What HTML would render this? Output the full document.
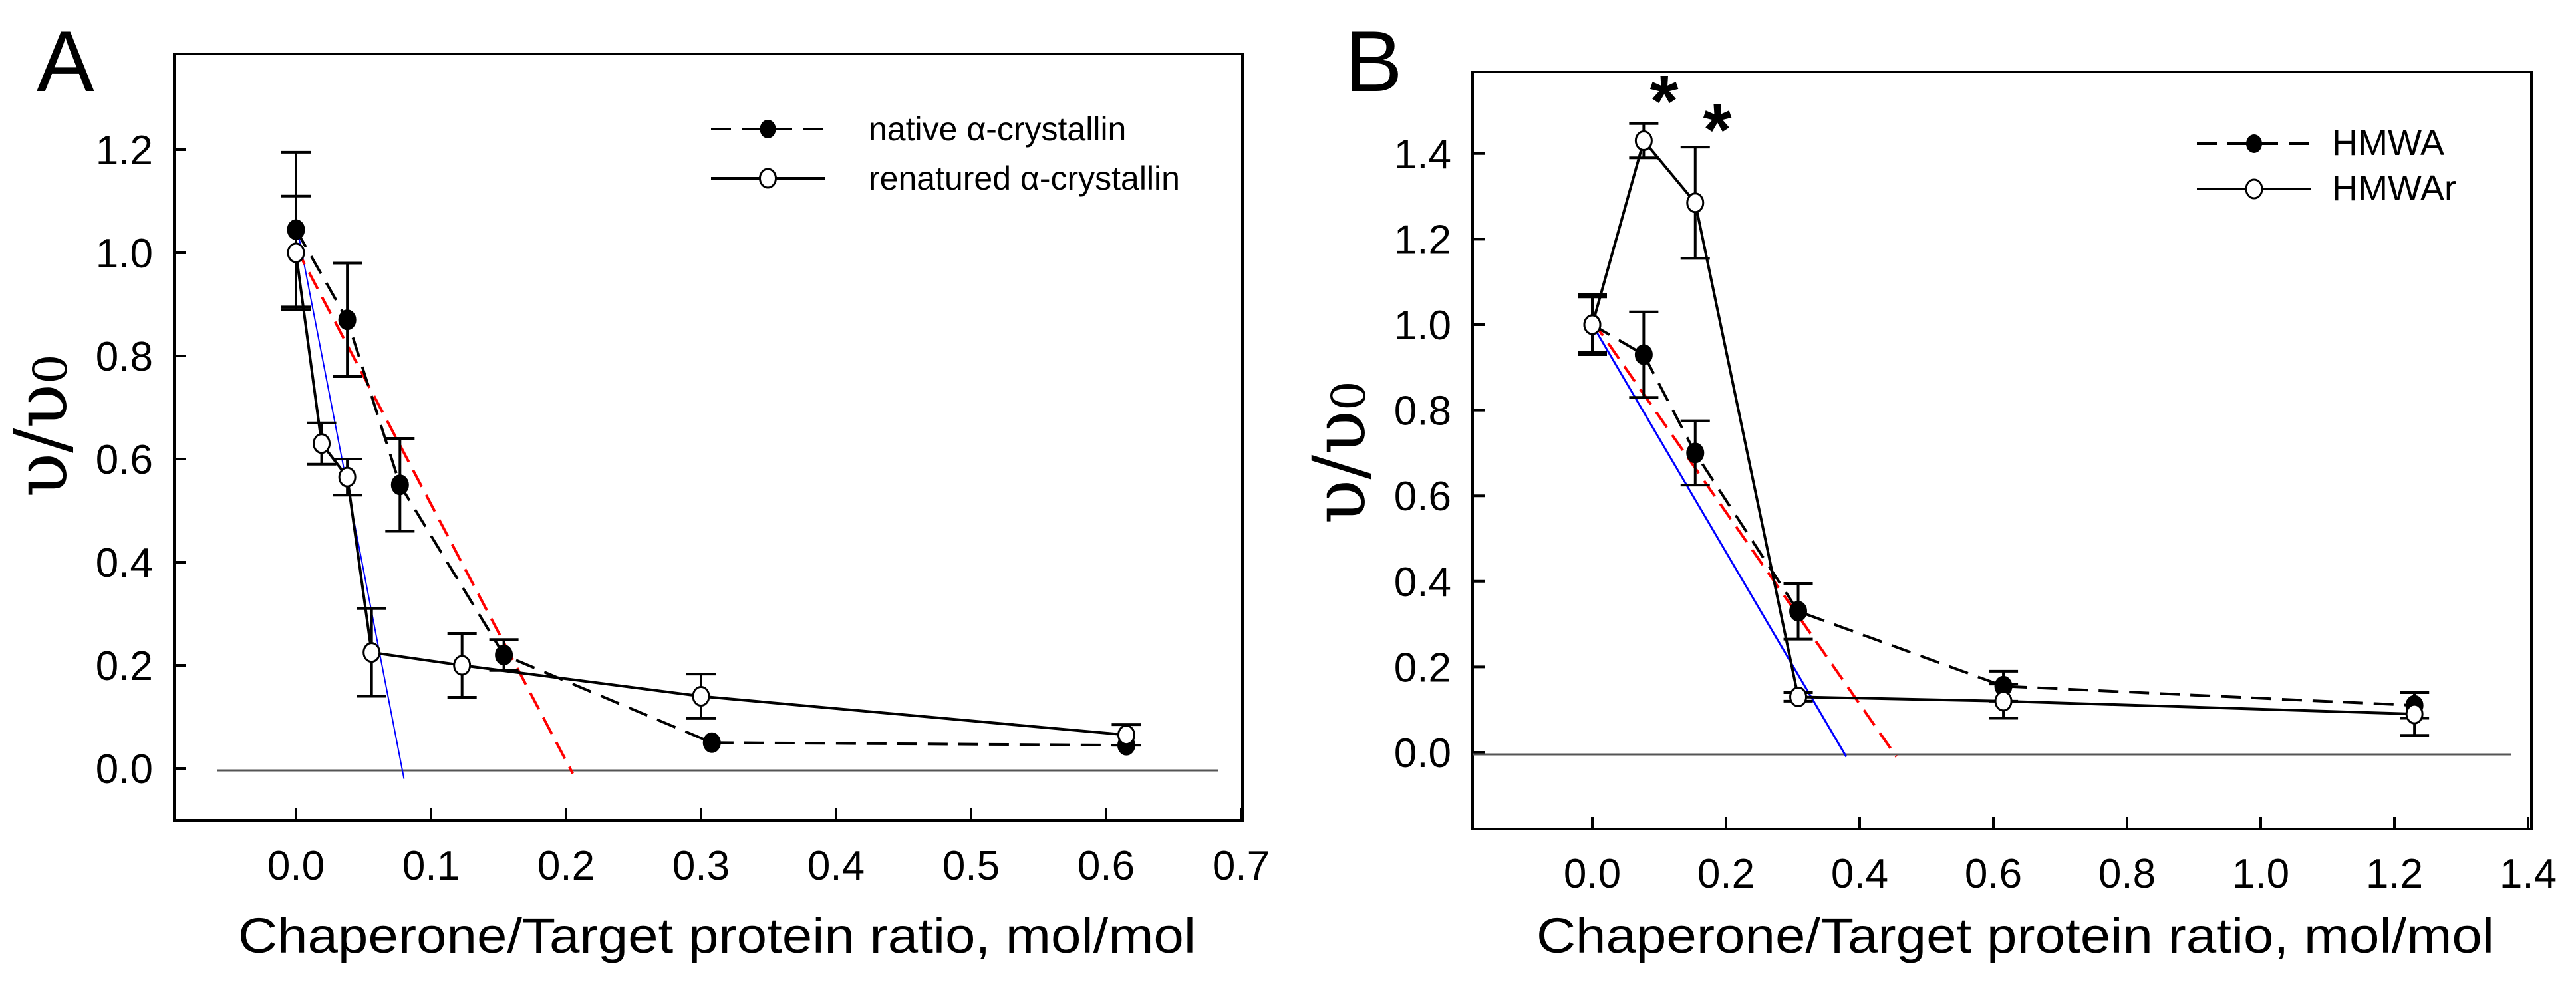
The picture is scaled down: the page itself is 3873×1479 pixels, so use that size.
<!DOCTYPE html>
<html><head><meta charset="utf-8">
<style>
html,body{margin:0;padding:0;background:#fff;}
svg{display:block;font-family:"Liberation Sans",sans-serif;}
</style></head>
<body>
<svg id="chart" width="3873" height="1479" viewBox="0 0 3873 1479" xmlns="http://www.w3.org/2000/svg">
<rect x="0" y="0" width="3873" height="1479" fill="#fff"/>
<g id="panelA"></g>
<g id="panelB"></g>
</svg>
<script>
// Panel A data
const aXTicks = [0.0, 0.1, 0.2, 0.3, 0.4, 0.5, 0.6, 0.7];
const aXTickLabels = ["0.0","0.1","0.2","0.3","0.4","0.5","0.6","0.7"];
const aYTicks = [0.0, 0.2, 0.4, 0.6, 0.8, 1.0, 1.2];
const aYTickLabels = ["0.0","0.2","0.4","0.6","0.8","1.0","1.2"];
const aNativeX = [0, 0.038, 0.077, 0.154, 0.308, 0.615];
const aNativeY = [1.045, 0.87, 0.55, 0.22, 0.05, 0.045];
const aNativeErr = [0.15, 0.11, 0.09, 0.03, 0, 0];
const aRenatX = [0, 0.019, 0.038, 0.056, 0.123, 0.30, 0.615];
const aRenatY = [1.0, 0.63, 0.565, 0.225, 0.2, 0.14, 0.065];
const aRenatErr = [0.11, 0.04, 0.035, 0.085, 0.062, 0.043, 0.02];
const aBlueFit = [[0, 1.06], [0.08, -0.02]];
const aRedFit = [[0, 1.01], [0.205, -0.01]];

// Panel B data
const bXTicks = [0.0, 0.2, 0.4, 0.6, 0.8, 1.0, 1.2, 1.4];
const bXTickLabels = ["0.0","0.2","0.4","0.6","0.8","1.0","1.2","1.4"];
const bYTicks = [0.0, 0.2, 0.4, 0.6, 0.8, 1.0, 1.2, 1.4];
const bYTickLabels = ["0.0","0.2","0.4","0.6","0.8","1.0","1.2","1.4"];
const bHmwaX = [0, 0.077, 0.154, 0.308, 0.615, 1.23];
const bHmwaY = [1.0, 0.93, 0.70, 0.33, 0.155, 0.11];
const bHmwaErr = [0.07, 0.10, 0.075, 0.065, 0.035, 0.03];
const bHmwarX = [0, 0.077, 0.154, 0.308, 0.615, 1.23];
const bHmwarY = [1.0, 1.43, 1.285, 0.13, 0.12, 0.09];
const bHmwarErr = [0.065, 0.04, 0.13, 0.01, 0.04, 0.05];
const bBlueFit = [[0, 1.0], [0.38, -0.01]];
const bRedFit = [[0, 1.01], [0.455, -0.01]];

const NS = "http://www.w3.org/2000/svg";
function mk(parent, tag, attrs, text) {
  const e = document.createElementNS(NS, tag);
  for (const k in attrs) e.setAttribute(k, attrs[k]);
  if (text !== undefined) e.textContent = text;
  parent.appendChild(e);
  return e;
}

function drawPanel(g, cfg) {
  const sx = v => cfg.x0 + v * cfg.kx;
  const sy = v => cfg.y0 - v * cfg.ky;
  const f = cfg.frame;
  const frame = mk(g, "rect", {x: f.l, y: f.t, width: f.r - f.l, height: f.b - f.t, fill: "none", stroke: "#000", "stroke-width": 4});
  
  
  cfg.xTicks.forEach((t, i) => {
    const tk = mk(g, "line", {x1: sx(t), x2: sx(t), y1: f.b, y2: f.b - 18, stroke: "#000", "stroke-width": 4});
    
    
    const lb = mk(g, "text", {x: sx(t), y: cfg.xLabelY, "font-size": 62, "text-anchor": "middle"}, cfg.xTickLabels[i]);
    
    
  });
  cfg.yTicks.forEach((t, i) => {
    const tk = mk(g, "line", {x1: f.l, x2: f.l + 18, y1: sy(t), y2: sy(t), stroke: "#000", "stroke-width": 4});
    
    
    const lb = mk(g, "text", {x: cfg.yLabelX, y: sy(t) + 22, "font-size": 62, "text-anchor": "end"}, cfg.yTickLabels[i]);
    
    
  });
  const zl = mk(g, "line", {x1: cfg.zeroFrom, x2: cfg.zeroTo, y1: sy(0) + 3, y2: sy(0) + 3, stroke: "#555", "stroke-width": 3});
  
  
  const bl = mk(g, "line", {x1: sx(cfg.blue[0][0]), y1: sy(cfg.blue[0][1]), x2: sx(cfg.blue[1][0]), y2: sy(cfg.blue[1][1]), stroke: "#0000ff", "stroke-width": cfg.blueW});
  
  
  const rl = mk(g, "line", {x1: sx(cfg.red[0][0]), y1: sy(cfg.red[0][1]), x2: sx(cfg.red[1][0]), y2: sy(cfg.red[1][1]), stroke: "#ff0000", "stroke-width": 4, "stroke-dasharray": "28 14"});
  
  
  function series(xs, ys, es, filled, name) {
    const pts = xs.map((x, i) => sx(x) + "," + sy(ys[i])).join(" ");
    const pl = mk(g, "polyline", {points: pts, fill: "none", stroke: "#000", "stroke-width": 4, "stroke-dasharray": filled ? "30 16" : "none"});
    
    
    xs.forEach((x, i) => {
      if (es[i] > 0) {
        const eb = mk(g, "path", {d: `M${sx(x)},${sy(ys[i]+es[i])}V${sy(ys[i]-es[i])}M${sx(x)-22},${sy(ys[i]+es[i])}h44M${sx(x)-22},${sy(ys[i]-es[i])}h44`, stroke: "#000", "stroke-width": 4, fill: "none"});
        
        
      }
      const c = mk(g, "ellipse", {cx: sx(x), cy: sy(ys[i]), rx: 12, ry: 14, fill: filled ? "#000" : "#fff", stroke: "#000", "stroke-width": 3});
      
      
    });
  }
  series(cfg.s1x, cfg.s1y, cfg.s1e, true, cfg.s1name);
  series(cfg.s2x, cfg.s2y, cfg.s2e, false, cfg.s2name);
  const L = cfg.legend;
  const l1 = mk(g, "line", {x1: L.x1, x2: L.x2, y1: L.y1, y2: L.y1, stroke: "#000", "stroke-width": 4, "stroke-dasharray": "30 16"});
  
  
  const m1 = mk(g, "ellipse", {cx: (L.x1+L.x2)/2, cy: L.y1, rx: 12, ry: 14, fill: "#000"});
  
  
  const t1 = mk(g, "text", {x: L.tx, y: L.y1 + 17, "font-size": L.fs}, L.t1);
  
  
  const l2 = mk(g, "line", {x1: L.x1, x2: L.x2, y1: L.y2, y2: L.y2, stroke: "#000", "stroke-width": 4});
  
  
  const m2 = mk(g, "ellipse", {cx: (L.x1+L.x2)/2, cy: L.y2, rx: 12, ry: 14, fill: "#fff", stroke: "#000", "stroke-width": 3});
  
  
  const t2 = mk(g, "text", {x: L.tx, y: L.y2 + 17, "font-size": L.fs}, L.t2);
  
  
  const xt = mk(g, "text", {x: cfg.xTitleX, y: 1432, "font-size": 74, "text-anchor": "middle", textLength: 1440, lengthAdjust: "spacingAndGlyphs"}, "Chaperone/Target protein ratio, mol/mol");
  
  
  const yt = mk(g, "text", {transform: `translate(${cfg.yTitleX},${cfg.yTitleY}) rotate(-90)`, "font-size": 110, "text-anchor": "middle", "font-family": "DejaVu Serif, Liberation Serif, serif"});
  
  
  yt.appendChild(document.createTextNode("υ/υ"));
  mk(yt, "tspan", {"font-size": 70, dy: 0}, "0");
  const pl = mk(g, "text", {x: cfg.labelX, y: 137, "font-size": 130}, cfg.label);
  
  
}

drawPanel(document.getElementById("panelA"), {
  x0: 445, kx: 2030, y0: 1155, ky: 775,
  frame: {l: 262, r: 1868, t: 81, b: 1233},
  xTicks: aXTicks, xTickLabels: aXTickLabels, yTicks: aYTicks, yTickLabels: aYTickLabels,
  xLabelY: 1322, yLabelX: 230,
  zeroFrom: 326, zeroTo: 1832,
  blue: aBlueFit, red: aRedFit, blueW: 2,
  s1x: aNativeX, s1y: aNativeY, s1e: aNativeErr, s1name: "native",
  s2x: aRenatX, s2y: aRenatY, s2e: aRenatErr, s2name: "renatured",
  legend: {x1: 1069, x2: 1240, y1: 194, y2: 268, tx: 1306, fs: 50, t1: "native α-crystallin", t2: "renatured α-crystallin"},
  xTitleX: 1078, yTitleX: 100, yTitleY: 640, labelX: 55, label: "A"
});

drawPanel(document.getElementById("panelB"), {
  x0: 2394, kx: 1005, y0: 1131, ky: 643,
  frame: {l: 2214, r: 3806, t: 108, b: 1246},
  xTicks: bXTicks, xTickLabels: bXTickLabels, yTicks: bYTicks, yTickLabels: bYTickLabels,
  xLabelY: 1334, yLabelX: 2182,
  zeroFrom: 2214, zeroTo: 3776,
  blue: bBlueFit, red: bRedFit, blueW: 3,
  s1x: bHmwaX, s1y: bHmwaY, s1e: bHmwaErr, s1name: "hmwa",
  s2x: bHmwarX, s2y: bHmwarY, s2e: bHmwarErr, s2name: "hmwar",
  legend: {x1: 3303, x2: 3475, y1: 216, y2: 284, tx: 3506, fs: 54, t1: "HMWA", t2: "HMWAr"},
  xTitleX: 3030, yTitleX: 2052, yTitleY: 680, labelX: 2022, label: "B"
});

const gB = document.getElementById("panelB");
const s1 = mk(gB, "text", {x: 2502, y: 190, "font-size": 110, "font-weight": "bold", "text-anchor": "middle"}, "*");


const s2 = mk(gB, "text", {x: 2582, y: 233, "font-size": 110, "font-weight": "bold", "text-anchor": "middle"}, "*");


</script>
</body></html>
